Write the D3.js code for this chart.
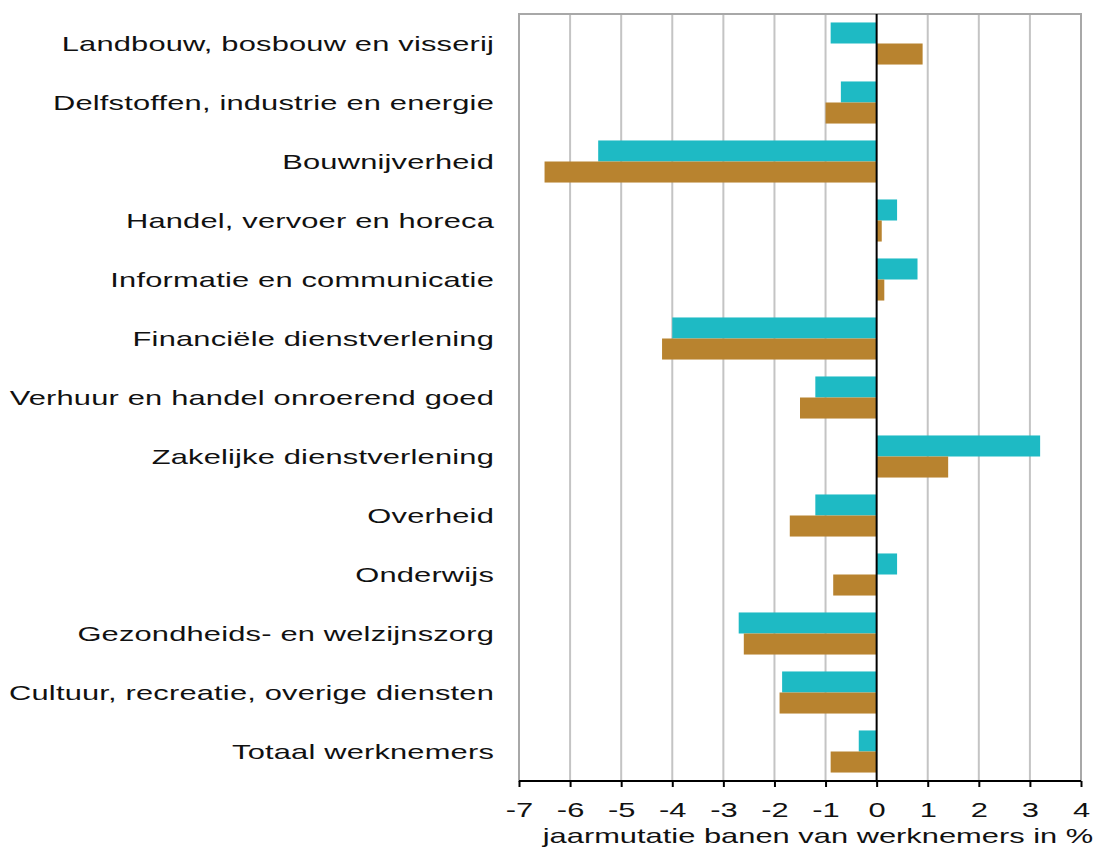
<!DOCTYPE html>
<html>
<head>
<meta charset="utf-8">
<script src="https://cdn.jsdelivr.net/npm/d3@7"></script>
<style>
  html, body { margin: 0; padding: 0; background: #fff; }
  svg { display: block; }
  text { font-family: "Liberation Sans", Arial, sans-serif; fill: #111; }
</style>
</head>
<body>
<svg id="chart" width="1098" height="848"></svg>
<script>
const categories = [
  "Landbouw, bosbouw en visserij",
  "Delfstoffen, industrie en energie",
  "Bouwnijverheid",
  "Handel, vervoer en horeca",
  "Informatie en communicatie",
  "Financiële dienstverlening",
  "Verhuur en handel onroerend goed",
  "Zakelijke dienstverlening",
  "Overheid",
  "Onderwijs",
  "Gezondheids- en welzijnszorg",
  "Cultuur, recreatie, overige diensten",
  "Totaal werknemers"
];
const seriesKeys = ["reeks1", "reeks2"];
const series1Values = [-0.9, -0.7, -5.45, 0.4, 0.8, -4.0, -1.2, 3.2, -1.2, 0.4, -2.7, -1.85, -0.35];
const series2Values = [0.9, -1.0, -6.5, 0.1, 0.15, -4.2, -1.5, 1.4, -1.7, -0.85, -2.6, -1.9, -0.9];
const xTicks = [-7, -6, -5, -4, -3, -2, -1, 0, 1, 2, 3, 4];
const xTitle = "jaarmutatie banen van werknemers in %";
const colors = ["#1ebac4", "#b8832f"];

(function () {
const svg = d3.select("#chart");
const pLeft = 519, pRight = 1081, pTop = 14, pBottom = 781;
const fs = 21, sx = 1.47;

const x = d3.scaleLinear().domain([-7, 4]).range([pLeft, pRight]);
const y = d3.scaleBand().domain(categories).range([pTop, pBottom])
  .paddingInner(0.287).paddingOuter(0.1435);
const ys = d3.scaleBand().domain(seriesKeys).range([0, y.bandwidth()]);

const data = categories.map((c, i) => ({ cat: c, vals: [series1Values[i], series2Values[i]] }));

// gridlines
svg.append("g").selectAll("line").data(xTicks.filter(t => t !== 0 && t !== -7 && t !== 4)).join("line")
  .attr("x1", d => x(d)).attr("x2", d => x(d))
  .attr("y1", pTop).attr("y2", pBottom)
  .attr("stroke", "#c4c4c4").attr("stroke-width", 2);

// plot border
svg.append("rect").attr("x", pLeft).attr("y", pTop)
  .attr("width", pRight - pLeft).attr("height", pBottom - pTop)
  .attr("fill", "none").attr("stroke", "#a8a8a8").attr("stroke-width", 2);

// bars
const groups = svg.append("g").selectAll("g").data(data).join("g")
  .attr("transform", d => `translate(0,${y(d.cat)})`);
groups.selectAll("rect").data(d => d.vals.map((v, k) => ({ key: seriesKeys[k], v, k }))).join("rect")
  .attr("x", d => x(Math.min(0, d.v)))
  .attr("width", d => Math.abs(x(d.v) - x(0)))
  .attr("y", d => ys(d.key))
  .attr("height", ys.bandwidth())
  .attr("fill", d => colors[d.k]);

// zero line
svg.append("line").attr("x1", x(0)).attr("x2", x(0)).attr("y1", pTop).attr("y2", pBottom)
  .attr("stroke", "#000").attr("stroke-width", 2);

// x axis
const xAxis = svg.append("g").attr("transform", `translate(0,${pBottom})`)
  .call(d3.axisBottom(x).tickValues(xTicks).tickSize(6));
xAxis.select(".domain").attr("stroke", "#000").attr("stroke-width", 2).attr("d", `M${pLeft},0H${pRight}`);
xAxis.selectAll(".tick line").attr("stroke", "#000").attr("stroke-width", 2);
xAxis.selectAll(".tick text").remove();
xAxis.selectAll(".tick").append("g").attr("transform", `translate(0,35.5) scale(${sx},1)`)
  .append("text").attr("text-anchor", "middle").style("font-size", fs + "px")
  .text(d => String(d));

// category labels
const labels = svg.append("g").selectAll("g").data(categories).join("g")
  .attr("transform", d => `translate(494,${y(d) + y.bandwidth() / 2 + 7.5}) scale(${sx},1)`);
labels.append("text").attr("text-anchor", "end").style("font-size", fs + "px")
  .style("letter-spacing", "0.12px").text(d => d);

// axis title
svg.append("g").attr("transform", `translate(818,843) scale(${sx},1)`)
  .append("text").attr("text-anchor", "middle").style("font-size", fs + "px").text(xTitle);
})();
</script>
</body>
</html>
